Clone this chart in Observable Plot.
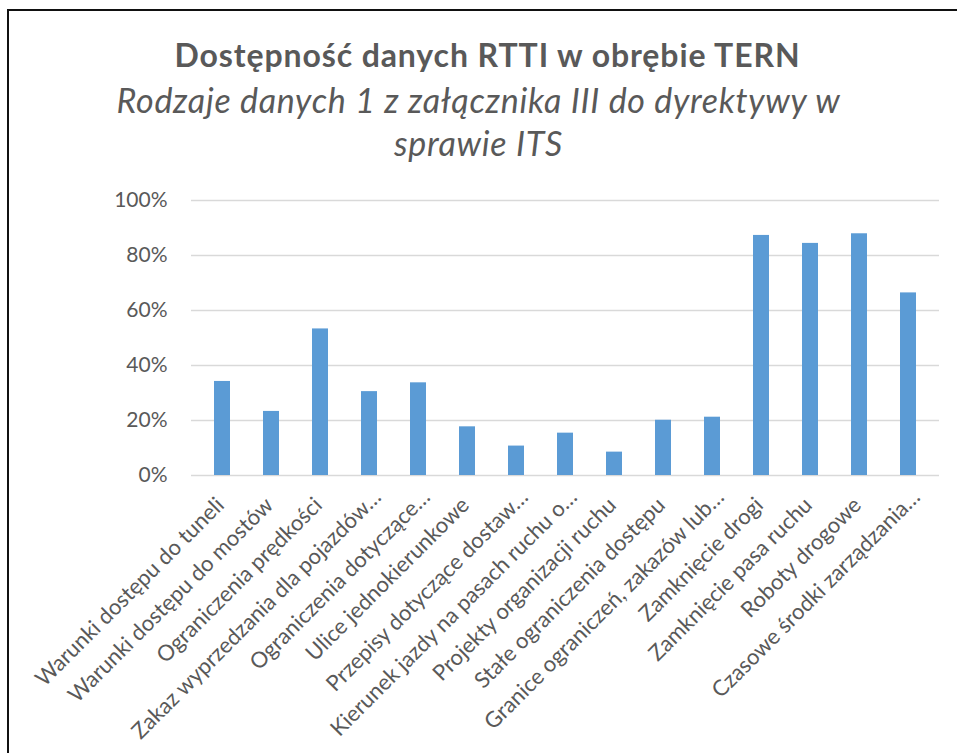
<!DOCTYPE html>
<html>
<head>
<meta charset="utf-8">
<script src="https://cdn.jsdelivr.net/npm/d3@7"></script>
<script src="https://cdn.jsdelivr.net/npm/@observablehq/plot@0.6"></script>
<style>
  html, body { margin: 0; padding: 0; background: #fff; }
  #page { position: relative; width: 957px; height: 753px; overflow: hidden; font-family: Lato, "Open Sans", sans-serif; color: #595959; }
  #frame { position: absolute; left: 7px; top: 9px; width: 980px; height: 800px; border-top: 2px solid #111; border-left: 2px solid #111; box-sizing: border-box; }
  #title { position: absolute; left: 0; width: 975px; top: 36px; text-align: center; font-weight: bold; font-size: 32px; letter-spacing: 0.9px; line-height: 1.2; white-space: nowrap; }
  #subtitle { position: absolute; left: 0; width: 957px; top: 78px; text-align: center; font-style: italic; font-size: 34px; letter-spacing: 0.7px; line-height: 43px; white-space: nowrap; }
  #chart { position: absolute; left: 0; top: 175px; }
</style>
</head>
<body>
<div id="page">
  <div id="frame"></div>
  <div id="title">Dostępność danych RTTI w obrębie TERN</div>
  <div id="subtitle">Rodzaje danych 1 z załącznika III do dyrektywy w<br>sprawie ITS</div>
  <div id="chart"></div>
</div>
<script>
const categories = [
  "Warunki dostępu do tuneli",
  "Warunki dostępu do mostów",
  "Ograniczenia prędkości",
  "Zakaz wyprzedzania dla pojazdów…",
  "Ograniczenia dotyczące…",
  "Ulice jednokierunkowe",
  "Przepisy dotyczące dostaw…",
  "Kierunek jazdy na pasach ruchu o…",
  "Projekty organizacji ruchu",
  "Stałe ograniczenia dostępu",
  "Granice ograniczeń, zakazów lub…",
  "Zamknięcie drogi",
  "Zamknięcie pasa ruchu",
  "Roboty drogowe",
  "Czasowe środki zarządzania…"
];
const values = [0.342, 0.233, 0.533, 0.305, 0.337, 0.177, 0.107, 0.154, 0.085, 0.201, 0.212, 0.873, 0.844, 0.879, 0.664];
const yTicks = [0, 0.2, 0.4, 0.6, 0.8, 1.0];

const data = categories.map((c, i) => ({category: c, value: values[i]}));
const truncated = categories.filter((c) => c.endsWith("…"));
const full = categories.filter((c) => !c.endsWith("…"));

const xAxisStyle = {tickSize: 0, tickPadding: 16, tickRotate: -45, fill: "#595959", fontSize: 22, label: null};

const chart = Plot.plot({
  width: 957,
  height: 578,
  marginTop: 25,
  marginBottom: 278,
  marginLeft: 191,
  marginRight: 18,
  style: {fontFamily: "Lato, 'Open Sans', sans-serif", fontSize: "21px", color: "#595959", background: "transparent"},
  x: {domain: categories, paddingInner: 0.68, paddingOuter: 0.34, label: null},
  y: {domain: [0, 1], label: null},
  marks: [
    Plot.ruleY(yTicks, {stroke: "#d9d9d9", strokeWidth: 1.5}),
    Plot.barY(data, {x: "category", y: "value", fill: "#5b9bd5"}),
    Plot.axisY(yTicks, {tickSize: 0, tickPadding: 24, tickFormat: d3.format(".0%"), fill: "#595959", fontSize: 21, label: null}),
    Plot.axisX(full, {...xAxisStyle, dx: -2, dy: 10}),
    Plot.axisX(truncated, {...xAxisStyle, dx: 8, dy: 2})
  ]
});
document.getElementById("chart").appendChild(chart);
</script>
</body>
</html>
